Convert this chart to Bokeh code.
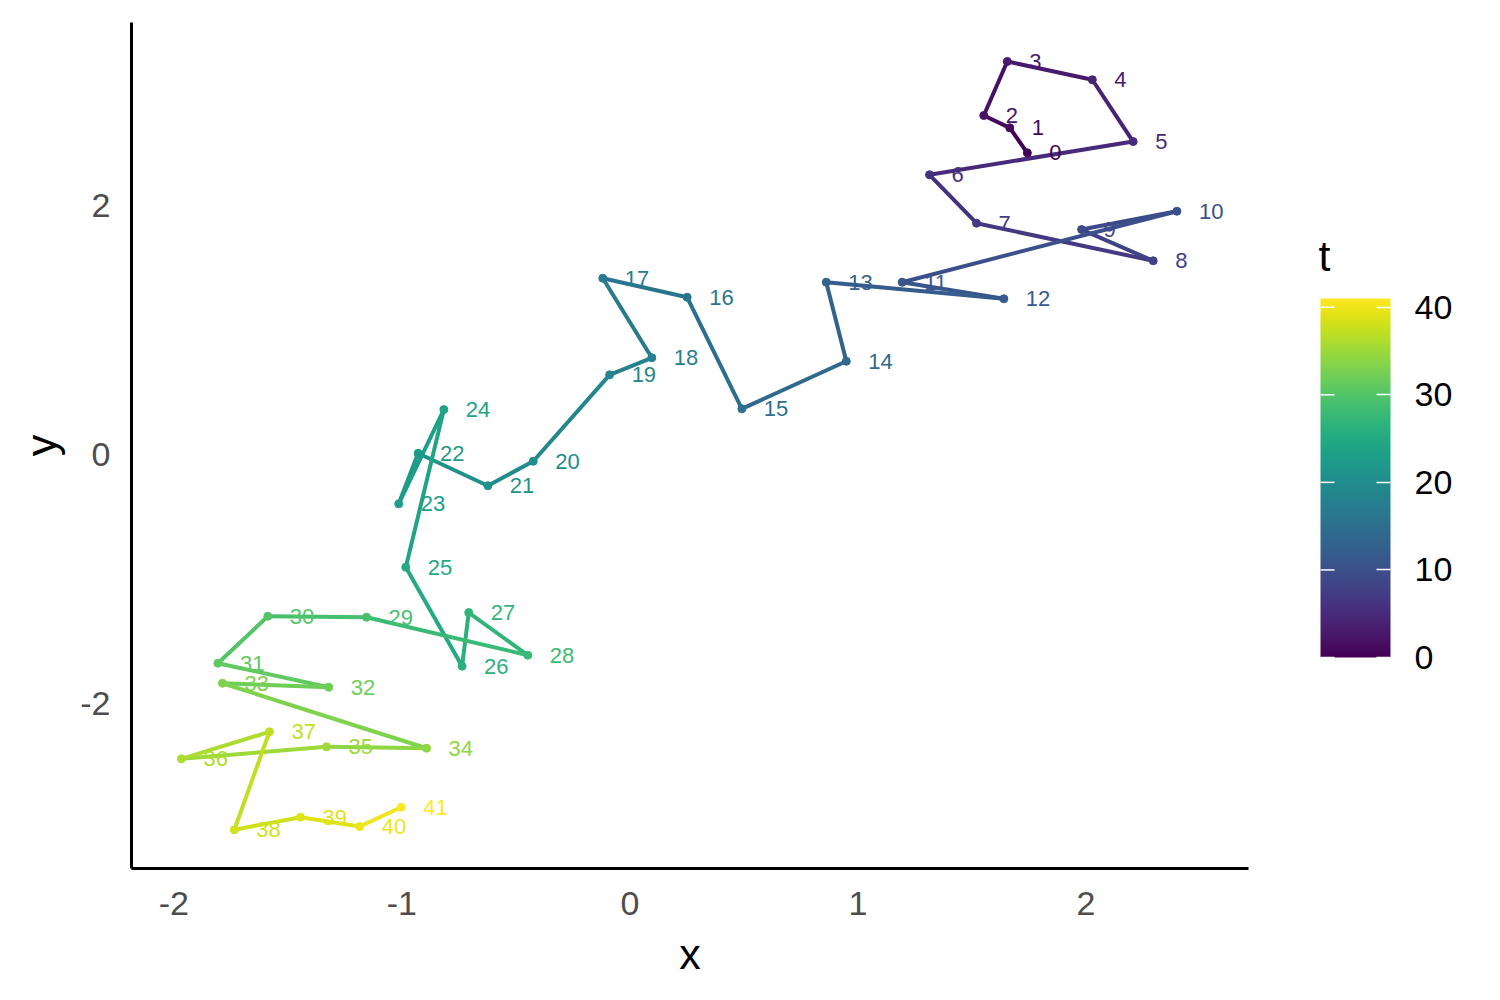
from bokeh.plotting import figure
from bokeh.layouts import row
from bokeh.models import ColumnDataSource, LinearColorMapper, ColorBar, FixedTicker, Label
from bokeh.palettes import Viridis256
from bokeh.transform import linear_cmap
from bokeh.embed import file_html
from bokeh.resources import INLINE

# ---- data ----
t_vals = list(range(42))
x_vals = [1.743, 1.666, 1.552, 1.655, 2.028, 2.207, 1.314, 1.520, 2.295, 1.981,
          2.399, 1.194, 1.640, 0.861, 0.949, 0.491, 0.251, -0.119, 0.096, -0.089,
          -0.424, -0.623, -0.929, -1.014, -0.816, -0.983, -0.736, -0.707, -0.448, -1.155,
          -1.588, -1.807, -1.321, -1.787, -0.892, -1.331, -1.967, -1.581, -1.735, -1.445,
          -1.185, -1.003]
y_vals = [2.423, 2.624, 2.723, 3.157, 3.010, 2.514, 2.247, 1.858, 1.556, 1.807,
          1.954, 1.384, 1.251, 1.384, 0.749, 0.367, 1.263, 1.416, 0.777, 0.640,
          -0.054, -0.251, 0.010, -0.396, 0.361, -0.905, -1.700, -1.269, -1.612, -1.307,
          -1.299, -1.676, -1.869, -1.837, -2.359, -2.348, -2.444, -2.227, -3.014, -2.913,
          -2.988, -2.833]
labels = [str(t) for t in t_vals]
x_ticks = [-2, -1, 0, 1, 2]
y_ticks = [-2, 0, 2]
cbar_ticks = [0, 10, 20, 30, 40]

FONT = "Liberation Sans"
T_LOW, T_HIGH = min(t_vals), max(t_vals)

mapper = LinearColorMapper(palette=Viridis256, low=T_LOW, high=T_HIGH)

pts = ColumnDataSource(dict(x=x_vals, y=y_vals, t=t_vals, label=labels))
segs = ColumnDataSource(dict(x0=x_vals[:-1], y0=y_vals[:-1], x1=x_vals[1:], y1=y_vals[1:],
                             t=t_vals[:-1]))

TOP, BOTTOM = 22, 132
H = 1000

# ---- main panel ----
p = figure(width=1290, height=H, output_backend="svg", toolbar_location=None,
           x_range=(-2.186, 2.713), y_range=(-3.325, 3.470),
           min_border_left=131, min_border_right=42, min_border_top=TOP, min_border_bottom=BOTTOM)
p.outline_line_color = None
p.grid.visible = False
p.background_fill_color = "white"
p.border_fill_color = "white"

col = linear_cmap("t", Viridis256, T_LOW, T_HIGH)
p.segment("x0", "y0", "x1", "y1", source=segs, line_color=col, line_width=4, line_cap="round")
p.scatter("x", "y", source=pts, size=8, fill_color=col, line_color=col)
p.text("x", "y", text="label", source=pts, x_offset=22, y_offset=0,
       text_align="left", text_baseline="middle", text_color=col,
       text_font_size="22px", text_font={"value": FONT})

for ax, ticks, lab in ((p.xaxis[0], x_ticks, "x"), (p.yaxis[0], y_ticks, "y")):
    ax.ticker = FixedTicker(ticks=ticks)
    ax.major_label_overrides = {tk: str(tk) for tk in ticks}
    ax.axis_label = lab
    ax.axis_line_color = "black"
    ax.axis_line_width = 3
    ax.major_tick_line_color = None
    ax.minor_tick_line_color = None
    ax.major_tick_out = 0
    ax.major_tick_in = 0
    ax.major_label_text_font = FONT
    ax.major_label_text_font_size = "34px"
    ax.major_label_text_color = "#4D4D4D"
    ax.axis_label_text_font = FONT
    ax.axis_label_text_font_size = "43px"
    ax.axis_label_text_font_style = "normal"
    ax.axis_label_text_color = "black"
p.xaxis.major_label_standoff = 23
p.xaxis.axis_label_standoff = 12
p.yaxis.major_label_standoff = 21
p.yaxis.axis_label_standoff = 12

# ---- legend panel (1 data unit = 1 pixel; frame aligned with main frame) ----
LW = 210
FH = H - TOP - BOTTOM
BAR_L, BAR_B, BAR_W, BAR_H = 30, 211, 70, 359
lg = figure(width=LW, height=H, output_backend="svg", toolbar_location=None,
            x_range=(0, LW), y_range=(0, FH),
            min_border_left=0, min_border_right=0, min_border_top=TOP, min_border_bottom=BOTTOM,
            x_axis_location=None, y_axis_location=None)
lg.outline_line_color = None
lg.grid.visible = False
lg.background_fill_color = "white"
lg.border_fill_color = "white"

cb = ColorBar(color_mapper=mapper, ticker=FixedTicker(ticks=cbar_ticks),
              width=BAR_W, height=BAR_H, padding=0, location=(BAR_L, BAR_B),
              major_label_text_font=FONT, major_label_text_font_size="34px",
              major_label_text_color="black", label_standoff=24,
              major_tick_line_color="white", major_tick_line_width=1.5,
              major_tick_in=14, major_tick_out=0, minor_tick_line_color=None,
              bar_line_color=None, border_line_color=None, background_fill_color=None)
lg.add_layout(cb, "center")

# white ticks on the left edge of the bar, as in the reference
tick_y = [BAR_B + (tk - T_LOW) / (T_HIGH - T_LOW) * BAR_H for tk in cbar_ticks]
r = lg.segment(x0=[BAR_L] * len(tick_y), y0=tick_y, x1=[BAR_L + 14] * len(tick_y), y1=tick_y,
               line_color="white", line_width=1.5)
r.level = "overlay"

lg.add_layout(Label(x=BAR_L - 2, y=BAR_B + BAR_H + 43, text="t",
                    text_font=FONT, text_font_size="43px", text_color="black",
                    text_align="left", text_baseline="alphabetic"))

layout = row(p, lg, spacing=0)
open("out.html", "w").write(file_html(layout, INLINE))
